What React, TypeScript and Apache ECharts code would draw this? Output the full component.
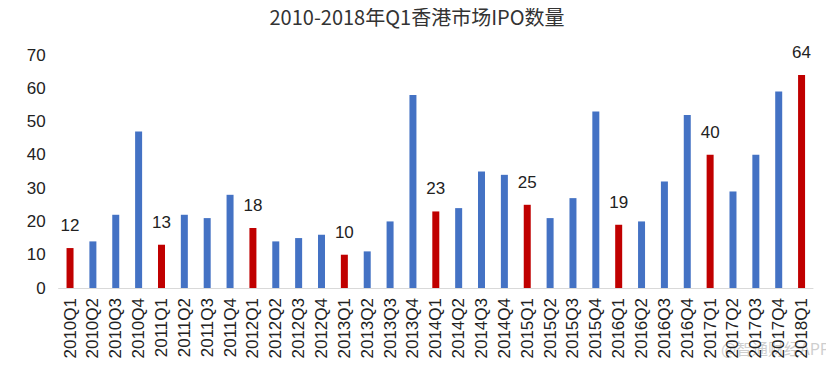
import React, { useEffect, useRef } from "react";
import * as echarts from "echarts";

const categories = [
  "2010Q1", "2010Q2", "2010Q3", "2010Q4",
  "2011Q1", "2011Q2", "2011Q3", "2011Q4",
  "2012Q1", "2012Q2", "2012Q3", "2012Q4",
  "2013Q1", "2013Q2", "2013Q3", "2013Q4",
  "2014Q1", "2014Q2", "2014Q3", "2014Q4",
  "2015Q1", "2015Q2", "2015Q3", "2015Q4",
  "2016Q1", "2016Q2", "2016Q3", "2016Q4",
  "2017Q1", "2017Q2", "2017Q3", "2017Q4",
  "2018Q1",
];

const ipoCounts = [
  12, 14, 22, 47,
  13, 22, 21, 28,
  18, 14, 15, 16,
  10, 11, 20, 58,
  23, 24, 35, 34,
  25, 21, 27, 53,
  19, 20, 32, 52,
  40, 29, 40, 59,
  64,
];

const yTicks = { min: 0, max: 70, interval: 10 };
const titleText = "2010-2018年Q1香港市场IPO数量";
const watermarkText = "@智通财经APP";

const BLUE = "#4472C4";
const RED = "#C00000";

export default function App() {
  const ref = useRef<HTMLDivElement>(null);
  useEffect(() => {
    if (!ref.current) return;
    const chart = echarts.init(ref.current, null, { renderer: "svg" });
    const data = ipoCounts.map((v, i) => {
      const isQ1 = categories[i].endsWith("Q1");
      return {
        value: v,
        itemStyle: { color: isQ1 ? RED : BLUE },
        label: {
          show: isQ1,
          position: "top",
          distance: 14,
          color: "#222",
          fontSize: 17,
          fontFamily: "Liberation Sans, Arial, sans-serif",
        },
      };
    });
    chart.setOption({
      animation: false,
      backgroundColor: "#fff",
      title: {
        text: titleText,
        left: "center",
        top: 1,
        textStyle: {
          fontSize: 20,
          fontWeight: "normal",
          color: "#333",
          fontFamily: "Noto Sans CJK SC, sans-serif",
        },
      },
      grid: { left: 58.6, right: 21, top: 55, bottom: 86 },
      xAxis: {
        type: "category",
        data: categories,
        axisLine: { show: true, lineStyle: { color: "#d9d9d9", width: 1 } },
        axisTick: { show: false },
        axisLabel: {
          rotate: 90,
          interval: 0,
          color: "#222",
          fontSize: 17,
          margin: 10,
          fontFamily: "Liberation Sans, Arial, sans-serif",
        },
      },
      yAxis: {
        type: "value",
        min: yTicks.min,
        max: yTicks.max,
        interval: yTicks.interval,
        axisLine: { show: false },
        axisTick: { show: false },
        splitLine: { show: false },
        axisLabel: {
          color: "#222",
          fontSize: 17,
          margin: 13,
          fontFamily: "Liberation Sans, Arial, sans-serif",
        },
      },
      series: [
        {
          type: "bar",
          data,
          barWidth: 7,
        },
      ],
      graphic: [
        {
          type: "text",
          right: 4,
          top: 340,
          style: {
            text: watermarkText,
            fill: "rgba(190,190,190,0.75)",
            fontSize: 16,
            fontFamily: "Noto Sans CJK SC, sans-serif",
          },
        },
      ],
    });
    return () => chart.dispose();
  }, []);
  return <div ref={ref} style={{ width: 834, height: 374, margin: -8 }} />;
}
